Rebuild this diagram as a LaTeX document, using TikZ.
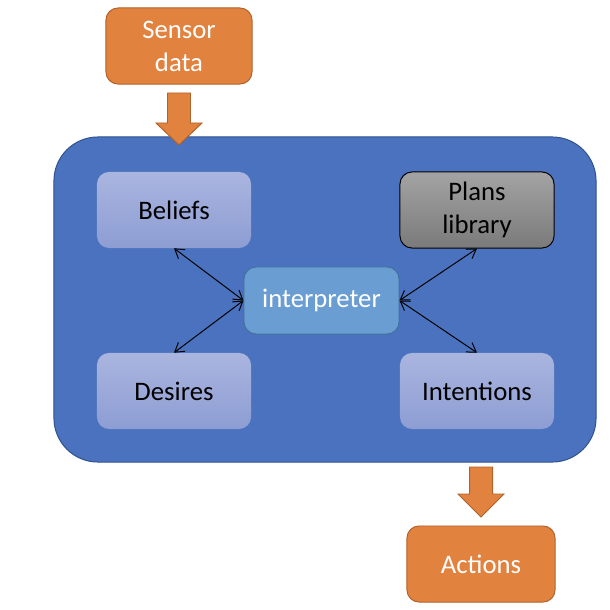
\documentclass[tikz,border=0pt]{standalone}
\usepackage{fontspec}
\setmainfont{Carlito}
\usetikzlibrary{arrows.meta}

\definecolor{boxorange}{HTML}{E2823F}
\definecolor{edgeorange}{HTML}{B0622B}
\definecolor{agentblue}{HTML}{4A72BE}
\definecolor{edgeblue}{HTML}{2F528F}
\definecolor{lavtop}{HTML}{AAB5DF}
\definecolor{lavbot}{HTML}{8D9DD3}
\definecolor{interblue}{HTML}{6A9DD2}
\definecolor{interedge}{HTML}{41719C}

\tikzset{
  io/.style={rectangle,rounded corners=0.3cm,draw=edgeorange,fill=boxorange,
    line width=0.7pt,text=white,align=center,minimum height=1.9cm,
    font=\fontsize{19}{23.5}\selectfont},
  part/.style={rectangle,rounded corners=0.3cm,top color=lavtop,bottom color=lavbot,
    minimum width=3.85cm,minimum height=1.9cm,align=center,
    font=\fontsize{19}{23.5}\selectfont},
  blockarrow/.style={draw=edgeorange,fill=boxorange,line width=0.7pt,line join=miter},
  link/.style={line width=0.7pt,{Straight Barb[length=2.2mm,width=2.8mm]}-{Straight Barb[length=2.2mm,width=2.8mm]}}
}

\begin{document}
\begin{tikzpicture}[x=0.025cm,y=-0.025cm]
\useasboundingbox (0,0) rectangle (610,610);

% agent node
\node[rectangle,rounded corners=1.1cm,draw=edgeblue,fill=agentblue,line width=0.7pt,
  minimum width=13.55cm,minimum height=8.125cm] (agent) at (325,299.5) {};

% sensor data node
\node[io,minimum width=3.65cm] (sensor) at (179,46) {Sensor\\data};

% input arrow
\draw[blockarrow] (167.5,93) -- (190.5,93) -- (190.5,123) -- (202,123) -- (179,145)
  -- (156,123) -- (167.5,123) -- cycle;

% beliefs node
\node[part] (beliefs) at (174,210) {Beliefs};

% desires node
\node[part] (desires) at (174,391) {Desires};

% plans library node
\node[part,top color=black!36,bottom color=black!52,draw=black,line width=0.7pt] (plans) at (477,210) {Plans\\library};

% intentions node
\node[part] (intentions) at (477,391) {Intentions};

% interpreter node
\node[rectangle,rounded corners=0.3cm,draw=interedge,fill=interblue,line width=0.7pt,
  minimum width=3.875cm,minimum height=1.675cm,text=white,
  font=\fontsize{19}{23.5}\selectfont] (interp) at (321.5,300.5) {interpreter};

\draw[link] (beliefs.south) -- (interp.west);
\draw[link] (desires.north) -- (interp.west);
\draw[link] (plans.south) -- (interp.east);
\draw[link] (intentions.north) -- (interp.east);

% output arrow
\draw[blockarrow] (469.5,467) -- (492.5,467) -- (492.5,494) -- (504,494) -- (481,517)
  -- (458,494) -- (469.5,494) -- cycle;

% actions node
\node[io,minimum width=3.7cm] (actions) at (481,564) {Actions};

\end{tikzpicture}
\end{document}
